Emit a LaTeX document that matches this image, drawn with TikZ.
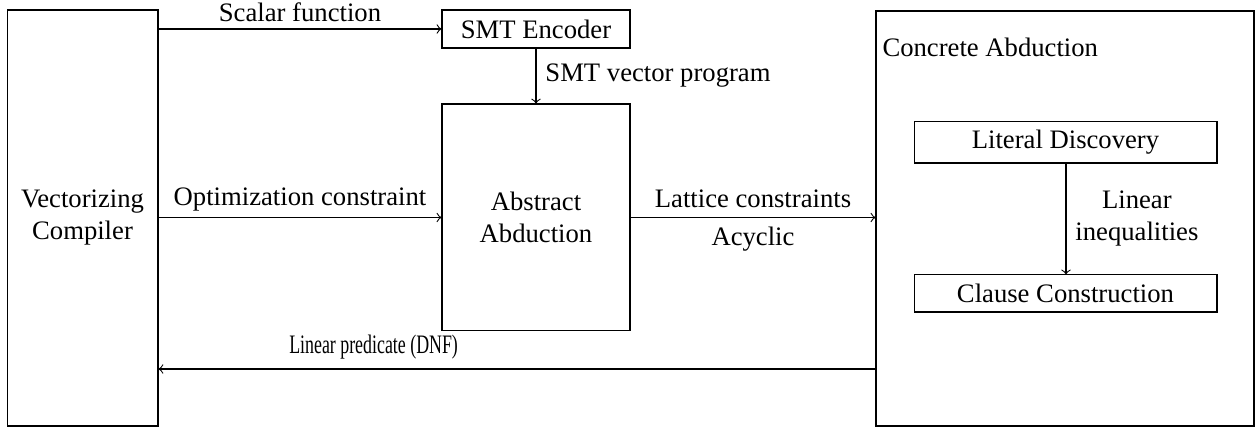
\documentclass[tikz,border=0pt]{standalone}
\usepackage{fontspec}
\setmainfont{Liberation Serif}
\begin{document}
\begin{tikzpicture}[x=0.375pt,y=-0.375pt,
  box/.style={draw, inner sep=0pt, align=center},
  arr/.style={->}]
\useasboundingbox (0,0) rectangle (1258,431);
\node[box, minimum width=56.6pt, minimum height=156pt] (vc) at (82.5,218) {Vectorizing\\Compiler};
\node[box, minimum width=141.75pt, minimum height=155.6pt] (ca) at (1065,218.5) {};
\node[anchor=base west, inner sep=0pt] (catitle) at (882,57) {Concrete Abduction};
\node[box, minimum width=70.5pt, minimum height=14.25pt] (smt) at (536,29) {SMT Encoder};
\node[box, minimum width=70.5pt, minimum height=85.1pt] (abs) at (536,217.5) {Abstract\\Abduction};
\node[box, minimum width=113.6pt, minimum height=15.4pt] (lit) at (1065.5,142.5) {Literal Discovery};
\node[box, minimum width=113.6pt, minimum height=13.9pt] (cl) at (1065.5,293.5) {Clause Construction};
\coordinate (lp) at (0,369);
\draw[arr] (vc.east |- smt.west) -- node[above, yshift=-1pt] {Scalar function} (smt.west);
\draw[arr] (smt.south) -- node[right] {SMT vector program} (abs.north);
\draw[arr] (vc.east |- abs.west) -- node[above, yshift=-1pt] {Optimization constraint} (abs.west);
\draw[arr] (abs.east) -- node[above] {Lattice constraints} node[below] {Acyclic} (ca.west |- abs.east);
\draw[arr] (lit.south -| 1066,0) -- node[right, align=center] {Linear\\inequalities} (cl.north -| 1066,0);
\draw[arr] (ca.west |- lp) -- node[pos=0.7, above] {\scalebox{0.67}[1]{Linear predicate (DNF)}} (vc.east |- lp);
\end{tikzpicture}
\end{document}
